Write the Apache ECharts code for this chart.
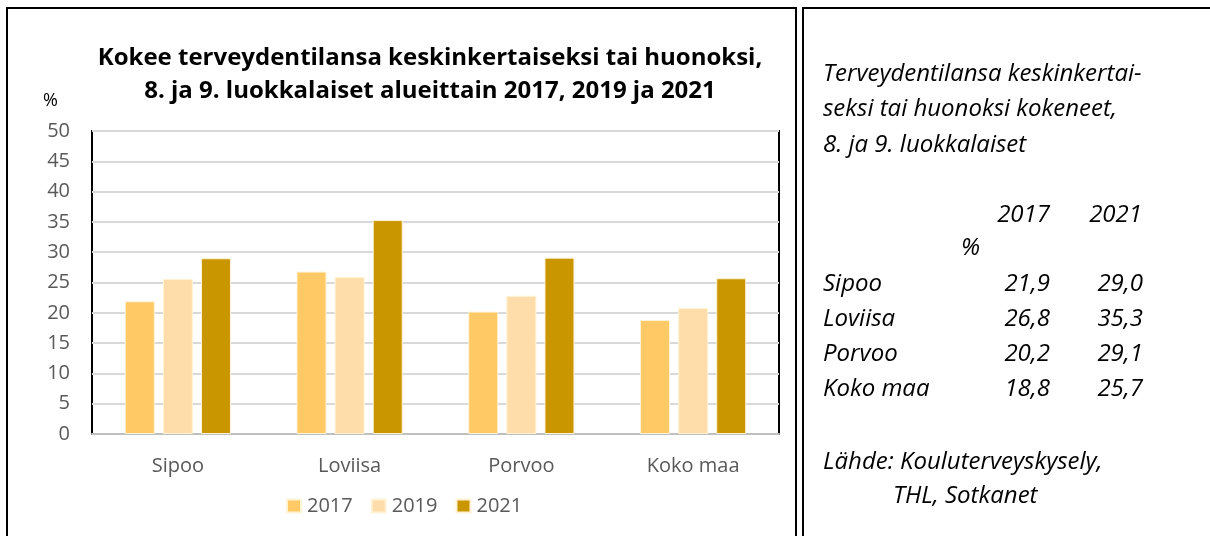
<!DOCTYPE html>
<html><head><meta charset="utf-8">
<script src="https://cdn.jsdelivr.net/npm/echarts@6/dist/echarts.min.js"></script>
<style>html,body{margin:0;padding:0;background:#fff}#c{width:1210px;height:536px}</style>
</head><body><div id="c"></div>
<script>
const categories = ['Sipoo', 'Loviisa', 'Porvoo', 'Koko maa'];
const years = ['2017', '2019', '2021'];
const v2017 = [21.9, 26.8, 20.2, 18.8];
const v2019 = [25.6, 25.9, 22.8, 20.8];
const v2021 = [29.0, 35.3, 29.1, 25.7];
const colors = ['#FFC966', '#FFDDAA', '#C99600'];
const titleText = 'Kokee terveydentilansa keskinkertaiseksi tai huonoksi,\n8. ja 9. luokkalaiset alueittain 2017, 2019 ja 2021';
const sideTitle = ['Terveydentilansa keskinkertai-', 'seksi tai huonoksi kokeneet,', '8. ja 9. luokkalaiset'];
const sideSource = ['Lähde: Kouluterveyskysely,', 'THL, Sotkanet'];

const fmt = v => v.toFixed(1).replace('.', ',');
const FONT = 'Open Sans';
const sideFont = { fontFamily: FONT, fontStyle: 'italic', fontSize: 24, fill: '#000' };
const T = (x, y, text, align) => ({ type: 'text', x, y, silent: true,
  style: Object.assign({ text, textAlign: align || 'left', textVerticalAlign: 'middle' }, sideFont) });

const graphics = [
  { type: 'rect', shape: { x: 7, y: 8, width: 789, height: 540 }, style: { fill: 'none', stroke: '#000', lineWidth: 2 }, silent: true },
  { type: 'rect', shape: { x: 803, y: 8, width: 420, height: 540 }, style: { fill: 'none', stroke: '#000', lineWidth: 2 }, silent: true },
  { type: 'text', x: 43, y: 100.5, silent: true, style: { text: '%', fontFamily: FONT, fontSize: 18, fill: '#000', textVerticalAlign: 'middle' } }
];
const sideLinesY = [74, 109, 145];
sideTitle.forEach((t, i) => graphics.push(T(823, sideLinesY[i], t)));
graphics.push(T(1050, 215, years[0], 'right'));
graphics.push(T(1142, 215, years[2], 'right'));
graphics.push(T(980, 248.5, '%', 'right'));
const rowY = [284.5, 319.5, 354.5, 389];
categories.forEach((c, i) => {
  graphics.push(T(823, rowY[i], c));
  graphics.push(T(1050, rowY[i], fmt(v2017[i]), 'right'));
  graphics.push(T(1143, rowY[i], fmt(v2021[i]), 'right'));
});
graphics.push(T(823, 462.5, sideSource[0]));
graphics.push(T(893, 496, sideSource[1]));

const chart = echarts.init(document.getElementById('c'), null, { renderer: 'canvas' });
const mk = (name, data, i) => ({
  name, type: 'bar', data, barWidth: 30, barGap: '27%',
  itemStyle: { color: colors[i], borderColor: '#FFF3D6', borderWidth: 1 },
  emphasis: { disabled: true }
});
chart.setOption({
  animation: false,
  textStyle: { fontFamily: FONT },
  title: {
    text: titleText, left: 430, top: 42, padding: 0, textAlign: 'center',
    textStyle: { fontFamily: FONT, fontWeight: 'bold', fontSize: 24, lineHeight: 33, color: '#000' }
  },
  grid: { left: 92, top: 131, right: 431, bottom: 102, show: true, borderColor: '#000', borderWidth: 2, backgroundColor: 'transparent' },
  legend: {
    data: years, left: 286, top: 496, padding: 0, itemWidth: 14, itemHeight: 13, itemGap: 18, icon: 'rect',
    textStyle: { fontFamily: FONT, fontSize: 20, color: '#595959', padding: [0, 0, 0, 1] }
  },
  xAxis: {
    type: 'category', data: categories,
    axisLine: { show: true, lineStyle: { color: '#BFBFBF', width: 2 } },
    axisTick: { show: false },
    axisLabel: { color: '#595959', fontSize: 20, fontFamily: FONT, margin: 22 }
  },
  yAxis: {
    type: 'value', min: 0, max: 50, interval: 5,
    axisLine: { show: false }, axisTick: { show: false },
    axisLabel: { color: '#595959', fontSize: 20, fontFamily: FONT, margin: 22 },
    splitLine: { lineStyle: { color: '#D9D9D9', width: 2 } }
  },
  series: [mk(years[0], v2017, 0), mk(years[1], v2019, 1), mk(years[2], v2021, 2)],
  graphic: graphics
});
</script></body></html>
